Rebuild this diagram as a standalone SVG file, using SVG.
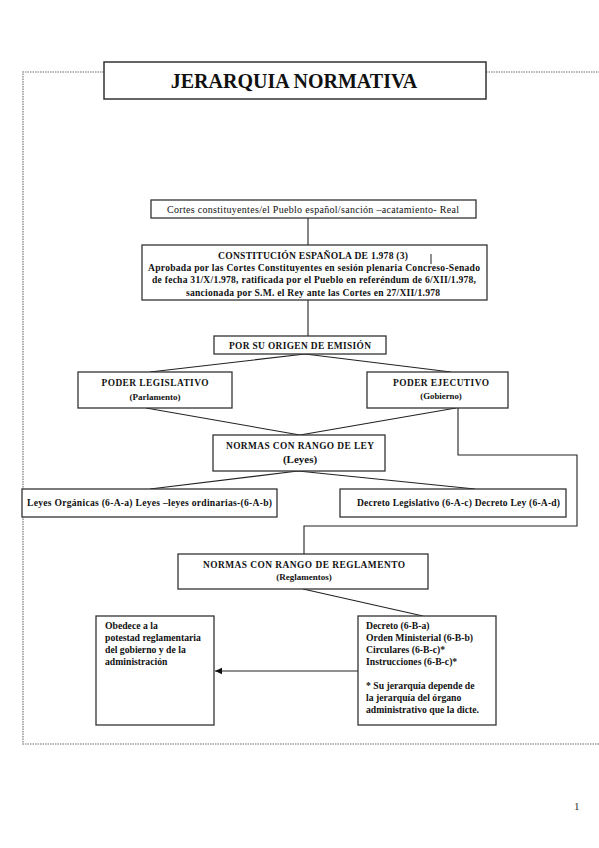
<svg xmlns="http://www.w3.org/2000/svg" width="599" height="848" viewBox="0 0 599 848">
<style>
.box{fill:#fff;stroke:#333;stroke-width:1.3}
.t{font-family:"Liberation Serif","Times New Roman",serif;font-weight:bold;font-size:9.2px;fill:#111}
.b{font-size:9.7px}
.r{font-weight:normal}
.c{text-anchor:middle}
.ln{fill:none;stroke:#222;stroke-width:1.1}
.frame{fill:none;stroke:#9a9a9a;stroke-width:1.6;stroke-dasharray:1.5 1}
</style>
<defs>
<marker id="arr" markerWidth="8" markerHeight="8" refX="7" refY="4" orient="auto" markerUnits="userSpaceOnUse">
<path d="M0,0.8 L7,4 L0,7.2 Z" fill="#111"/>
</marker>
</defs>
<rect width="599" height="848" fill="#fff"/>
<path class="frame" d="M104,72 H23 V744 H599 M486,72 H599"/>
<g id="title">
<rect class="box" x="104" y="62" width="382" height="37" style="stroke-width:1.5"/>
<text class="t c" x="294" y="87.5" style="font-size:20px">JERARQUIA NORMATIVA</text>
</g>
<g id="connectors">
<path class="ln" d="M308,218 V245"/>
<path class="ln" d="M308,300 V336"/>
<path class="ln" d="M305,354 L150,372 M305,354 L451,372"/>
<path class="ln" d="M146,408 L300,435 M456,408 L300,435"/>
<path class="ln" d="M298,471 L150,489 M298,471 L475,489"/>
<path class="ln" d="M458,408 V455 H577 V526 H304 V554"/>
<path class="ln" d="M303,589 L423,616"/>
<path class="ln" d="M358,671 H215" marker-end="url(#arr)"/>
</g>
<g id="cortes">
<rect class="box" x="151" y="200" width="325" height="18"/>
<text class="t r c" x="313" y="212.5" style="font-size:10px" textLength="292" lengthAdjust="spacing">Cortes constituyentes/el Pueblo español/sanción –acatamiento- Real</text>
</g>
<g id="constitucion">
<rect class="box" x="142" y="245" width="345" height="55"/>
<text class="t c" x="313" y="259" style="font-size:9.6px" textLength="190" lengthAdjust="spacing">CONSTITUCIÓN ESPAÑOLA DE 1.978 (3)</text>
<path d="M431,254 V264" stroke="#222" stroke-width="1"/>
<text class="t c" x="314" y="271" style="font-size:9.6px" textLength="332" lengthAdjust="spacing">Aprobada por las Cortes Constituyentes en sesión plenaria Concreso-Senado</text>
<text class="t c" x="314" y="283" style="font-size:9.6px" textLength="324" lengthAdjust="spacing">de fecha 31/X/1.978, ratificada por el Pueblo en referéndum de 6/XII/1.978,</text>
<text class="t c" x="313" y="295.5" style="font-size:9.6px" textLength="254" lengthAdjust="spacing">sancionada por S.M. el Rey ante las Cortes en 27/XII/1.978</text>
</g>
<g id="origen">
<rect class="box" x="214" y="336" width="172" height="18"/>
<text class="t c" x="300" y="348.5" style="font-size:9.4px" textLength="142" lengthAdjust="spacing">POR SU ORIGEN DE EMISIÓN</text>
</g>
<g id="legislativo">
<rect class="box" x="78" y="372" width="154" height="36"/>
<text class="t c" x="155" y="386" style="font-size:9.4px" textLength="107" lengthAdjust="spacing">PODER LEGISLATIVO</text>
<text class="t c" x="155" y="399.5" style="font-size:9px">(Parlamento)</text>
</g>
<g id="ejecutivo">
<rect class="box" x="367" y="372" width="141" height="36"/>
<text class="t c" x="441" y="386" style="font-size:9.4px" textLength="96" lengthAdjust="spacing">PODER EJECUTIVO</text>
<text class="t c" x="441" y="399" style="font-size:8.8px">(Gobierno)</text>
</g>
<g id="rango-ley">
<rect class="box" x="213" y="435" width="172" height="36"/>
<text class="t c" x="300" y="448.5" style="font-size:9.4px" textLength="148" lengthAdjust="spacing">NORMAS CON RANGO DE LEY</text>
<text class="t c" x="300" y="463" style="font-size:11px">(Leyes)</text>
</g>
<g id="leyes-organicas">
<rect class="box" x="22" y="489" width="255" height="28"/>
<text class="t" x="27" y="506" style="font-size:9.6px" textLength="245" lengthAdjust="spacing">Leyes Orgánicas (6-A-a) Leyes –leyes ordinarias-(6-A-b)</text>
</g>
<g id="decreto-legislativo">
<rect class="box" x="340" y="489" width="226" height="28"/>
<text class="t" x="357" y="506" style="font-size:9.6px" textLength="203" lengthAdjust="spacing">Decreto Legislativo (6-A-c) Decreto Ley (6-A-d)</text>
</g>
<g id="rango-reglamento">
<rect class="box" x="178" y="554" width="250" height="35"/>
<text class="t c" x="304" y="567.5" style="font-size:9.4px" textLength="202" lengthAdjust="spacing">NORMAS CON RANGO DE REGLAMENTO</text>
<text class="t c" x="304" y="580" style="font-size:9px">(Reglamentos)</text>
</g>
<g id="obedece">
<rect class="box" x="96" y="616" width="118" height="109"/>
<text class="t b" x="105" y="629">Obedece a la</text>
<text class="t b" x="105" y="641">potestad reglamentaria</text>
<text class="t b" x="105" y="653">del gobierno y de la</text>
<text class="t b" x="105" y="665">administración</text>
</g>
<g id="decretos">
<rect class="box" x="358" y="616" width="138" height="109"/>
<text class="t b" x="366" y="629">Decreto (6-B-a)</text>
<text class="t b" x="366" y="641">Orden Ministerial (6-B-b)</text>
<text class="t b" x="366" y="653">Circulares (6-B-c)*</text>
<text class="t b" x="366" y="665">Instrucciones (6-B-c)*</text>
<text class="t b" x="366" y="689">* Su jerarquía depende de</text>
<text class="t b" x="366" y="701">la jerarquía del órgano</text>
<text class="t b" x="366" y="713">administrativo que la dicte.</text>
</g>
<text class="t r" x="574" y="810" style="font-size:11px;fill:#333">1</text>
</svg>
